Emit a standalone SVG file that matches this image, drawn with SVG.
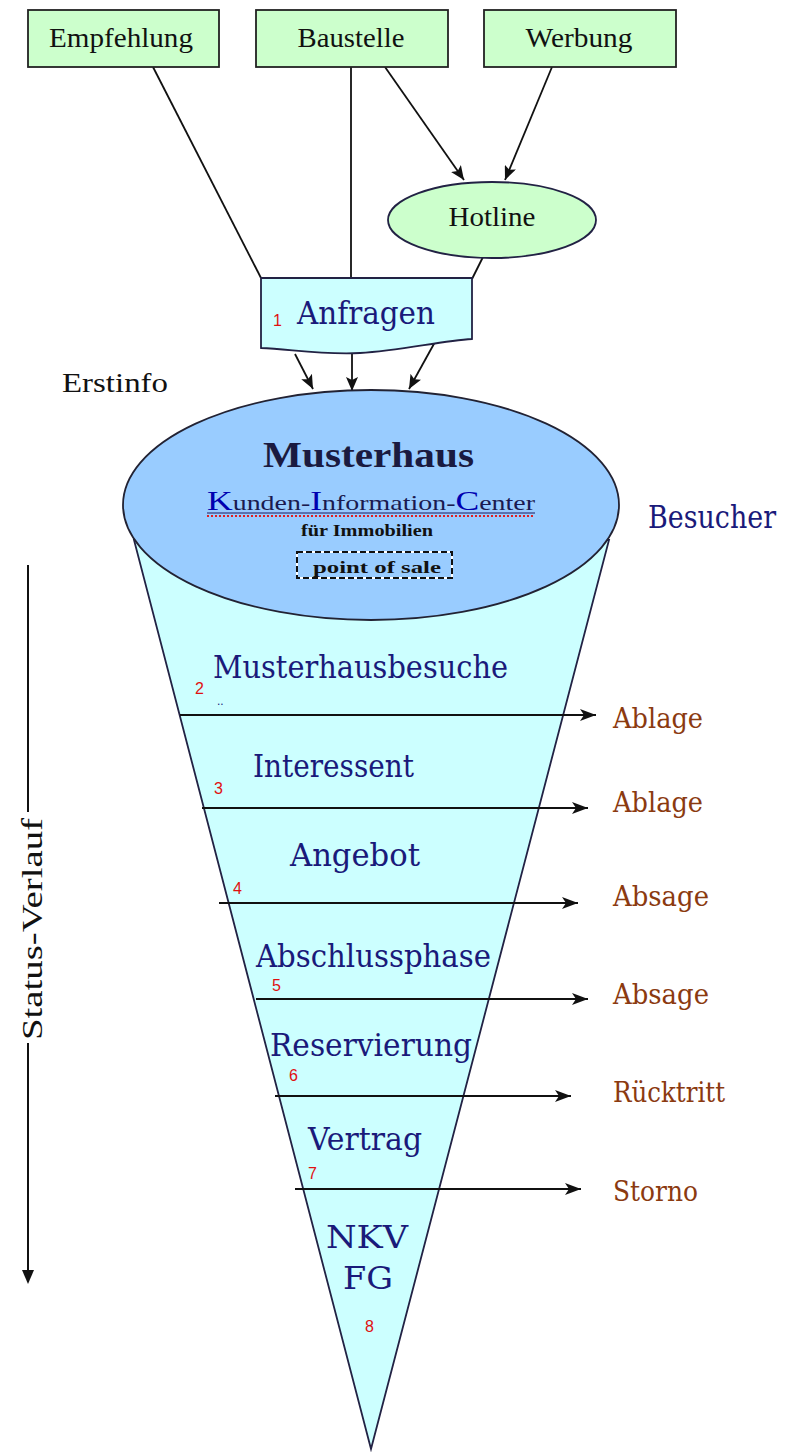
<svg xmlns="http://www.w3.org/2000/svg" width="795" height="1452" viewBox="0 0 795 1452">
<style>
.box{fill:#ccffcc;stroke:#222;stroke-width:1.8}
.ln{stroke:#111;stroke-width:1.8;fill:none}
.hl{stroke:#111;stroke-width:2;fill:none}
.tb{font-family:"Liberation Serif",serif;font-size:28px;fill:#111}
.fn{font-family:"DejaVu Serif",serif;font-size:32px;fill:#1a1a7a}
.br{font-family:"DejaVu Serif",serif;font-size:27px;fill:#8b3a10}
.rd{font-family:"Liberation Sans",sans-serif;font-size:16px;fill:#e01010}
</style>
<defs>
<marker id="ah" markerUnits="userSpaceOnUse" markerWidth="16" markerHeight="12" refX="16" refY="6" orient="auto">
<path d="M0,0 L16,6 L0,12 L4,6 Z" fill="#111"/>
</marker>
<marker id="as" markerUnits="userSpaceOnUse" markerWidth="14" markerHeight="12" refX="14" refY="6" orient="auto">
<path d="M0,0 L14,6 L0,12 L3,6 Z" fill="#111"/>
</marker>
</defs>
<rect width="795" height="1452" fill="#fff"/>

<g id="funnel">
<polygon points="134,540 609,540 371,1449" fill="#ccffff" stroke="#224" stroke-width="1.8"/>
</g>

<g id="connectors">
<line class="ln" x1="153" y1="67" x2="261" y2="278"/>
<line class="ln" x1="351" y1="67" x2="351" y2="278"/>
<line class="ln" x1="483" y1="257" x2="472" y2="279"/>
<line class="ln" x1="385" y1="67" x2="464" y2="180" marker-end="url(#as)"/>
<line class="ln" x1="552" y1="67" x2="505" y2="180" marker-end="url(#as)"/>
<line class="ln" x1="295" y1="354" x2="313" y2="389" marker-end="url(#as)"/>
<line class="ln" x1="352" y1="354" x2="352" y2="391" marker-end="url(#as)"/>
<line class="ln" x1="435" y1="342" x2="409" y2="389" marker-end="url(#as)"/>
<line class="hl" x1="180" y1="715" x2="596" y2="715" marker-end="url(#ah)"/>
<line class="hl" x1="202" y1="808" x2="588" y2="808" marker-end="url(#ah)"/>
<line class="hl" x1="219" y1="903" x2="578" y2="903" marker-end="url(#ah)"/>
<line class="hl" x1="256" y1="999" x2="588" y2="999" marker-end="url(#ah)"/>
<line class="hl" x1="275" y1="1096" x2="571" y2="1096" marker-end="url(#ah)"/>
<line class="hl" x1="295" y1="1189" x2="581" y2="1189" marker-end="url(#ah)"/>
</g>

<g id="empfehlung">
<rect class="box" x="28" y="10" width="191" height="57"/>
<text class="tb" x="49" y="47" textLength="144" lengthAdjust="spacingAndGlyphs">Empfehlung</text>
</g>
<g id="baustelle">
<rect class="box" x="256" y="10" width="192" height="57"/>
<text class="tb" x="351" y="47" text-anchor="middle" textLength="107" lengthAdjust="spacingAndGlyphs">Baustelle</text>
</g>
<g id="werbung">
<rect class="box" x="484" y="10" width="192" height="57"/>
<text class="tb" x="579" y="47" text-anchor="middle" textLength="107" lengthAdjust="spacingAndGlyphs">Werbung</text>
</g>

<g id="hotline">
<ellipse cx="492" cy="220" rx="104" ry="38" fill="#ccffcc" stroke="#224" stroke-width="1.8"/>
<text class="tb" x="492" y="226" text-anchor="middle" textLength="87" lengthAdjust="spacingAndGlyphs">Hotline</text>
</g>

<g id="anfragen">
<path d="M261,278 L472,278 L472,339 C440,341 400,351 360,353 C320,355 290,349 261,348 Z" fill="#ccffff" stroke="#224" stroke-width="1.8"/>
<text class="rd" x="273" y="326">1</text>
<text class="fn" x="297" y="324" font-size="34" textLength="138" lengthAdjust="spacingAndGlyphs">Anfragen</text>
</g>

<g id="erstinfo">
<text class="tb" x="62" y="392" font-size="33" textLength="106" lengthAdjust="spacingAndGlyphs">Erstinfo</text>
</g>

<g id="musterhaus">
<ellipse cx="371" cy="505" rx="248" ry="115" fill="#99ccff" stroke="#223" stroke-width="1.8"/>
<text x="263" y="467" font-family="Liberation Serif,serif" font-weight="bold" font-size="36" fill="#1a1a40" textLength="211" lengthAdjust="spacingAndGlyphs">Musterhaus</text>
<text x="207" y="510" font-family="Liberation Serif,serif" font-size="22" fill="#1a1a50" textLength="328" lengthAdjust="spacingAndGlyphs"><tspan fill="#0000b0" font-size="28">K</tspan>unden-<tspan fill="#0000b0" font-size="28">I</tspan>nformation-<tspan fill="#0000b0" font-size="28">C</tspan>enter</text>
<line x1="207" y1="513" x2="535" y2="513" stroke="#1a1a60" stroke-width="1"/>
<line x1="207" y1="516" x2="535" y2="516" stroke="#e02020" stroke-width="2" stroke-dasharray="2,2"/>
<text x="367" y="536" text-anchor="middle" font-family="Liberation Serif,serif" font-weight="bold" font-size="17" fill="#111" textLength="132" lengthAdjust="spacingAndGlyphs">für Immobilien</text>
<rect x="297" y="552" width="155" height="26" fill="none" stroke="#fff" stroke-width="2"/>
<rect x="297" y="552" width="155" height="26" fill="none" stroke="#111" stroke-width="2" stroke-dasharray="6,3"/>
<text x="377" y="573" text-anchor="middle" font-family="Liberation Serif,serif" font-weight="bold" font-size="17" fill="#111" textLength="128" lengthAdjust="spacingAndGlyphs">point of sale</text>
</g>

<g id="besucher">
<text class="fn" x="648" y="528" font-size="26" textLength="128" lengthAdjust="spacingAndGlyphs">Besucher</text>
</g>

<g id="stage2">
<text class="fn" x="213" y="678" textLength="295" lengthAdjust="spacingAndGlyphs">Musterhausbesuche</text>
<text class="rd" x="195" y="694">2</text>
<text x="217" y="705" font-family="Liberation Sans,sans-serif" font-size="12" fill="#1a1a7a">..</text>
</g>
<g id="stage3">
<text class="fn" x="253" y="777" textLength="161" lengthAdjust="spacingAndGlyphs">Interessent</text>
<text class="rd" x="214" y="794">3</text>
</g>
<g id="stage4">
<text class="fn" x="290" y="866" textLength="130" lengthAdjust="spacingAndGlyphs">Angebot</text>
<text class="rd" x="233" y="894">4</text>
</g>
<g id="stage5">
<text class="fn" x="256" y="967" textLength="235" lengthAdjust="spacingAndGlyphs">Abschlussphase</text>
<text class="rd" x="272" y="991">5</text>
</g>
<g id="stage6">
<text class="fn" x="270" y="1056" textLength="202" lengthAdjust="spacingAndGlyphs">Reservierung</text>
<text class="rd" x="289" y="1081">6</text>
</g>
<g id="stage7">
<text class="fn" x="308" y="1150" textLength="114" lengthAdjust="spacingAndGlyphs">Vertrag</text>
<text class="rd" x="308" y="1179">7</text>
</g>
<g id="stage8">
<text class="fn" x="326" y="1248" textLength="82" lengthAdjust="spacingAndGlyphs">NKV</text>
<text class="fn" x="343" y="1289" textLength="50" lengthAdjust="spacingAndGlyphs">FG</text>
<text class="rd" x="365" y="1332">8</text>
</g>

<g id="outcomes">
<text class="br" x="613" y="728" textLength="90" lengthAdjust="spacingAndGlyphs">Ablage</text>
<text class="br" x="613" y="812" textLength="90" lengthAdjust="spacingAndGlyphs">Ablage</text>
<text class="br" x="613" y="906" textLength="96" lengthAdjust="spacingAndGlyphs">Absage</text>
<text class="br" x="613" y="1004" textLength="96" lengthAdjust="spacingAndGlyphs">Absage</text>
<text class="br" x="613" y="1102" font-size="25" textLength="112" lengthAdjust="spacingAndGlyphs">Rücktritt</text>
<text class="br" x="613" y="1201" font-size="25" textLength="85" lengthAdjust="spacingAndGlyphs">Storno</text>
</g>

<g id="status">
<line x1="28" y1="565" x2="28" y2="812" stroke="#111" stroke-width="2"/>
<line x1="28" y1="1043" x2="28" y2="1272" stroke="#111" stroke-width="2"/>
<path d="M22,1270 L34,1270 L28,1284 Z" fill="#111"/>
<text transform="translate(42,1040) rotate(-90)" font-family="Liberation Serif,serif" font-size="30" fill="#111" textLength="222" lengthAdjust="spacingAndGlyphs">Status-Verlauf</text>
</g>
</svg>
